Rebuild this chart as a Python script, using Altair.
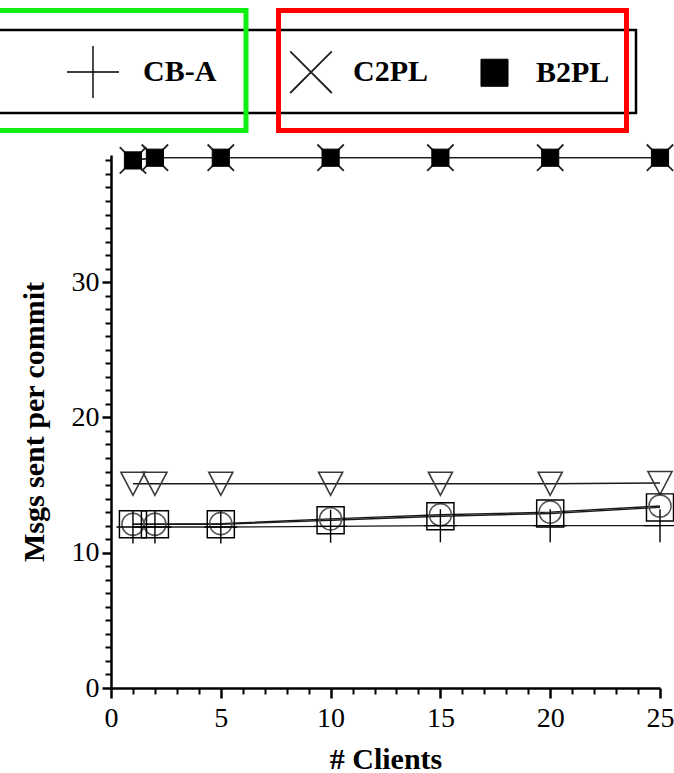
import altair as alt
import pandas as pd

SERIF = "Liberation Serif"

# x values (number of clients) shared by every series
clients = [1, 2, 5, 10, 15, 20, 25]

# messages sent per commit, one list per algorithm
nwl = [15.1, 15.1, 15.1, 15.1, 15.1, 15.1, 15.15]
cb_r = [12.1, 12.1, 12.15, 12.5, 12.8, 13.0, 13.45]
o2pl = [12.1, 12.1, 12.1, 12.4, 12.7, 12.9, 13.35]
cb_a = [11.9, 11.9, 11.9, 11.95, 12.0, 12.0, 12.0]
c2pl = [39.0, 39.2, 39.2, 39.2, 39.2, 39.2, 39.2]
b2pl = [39.0, 39.2, 39.2, 39.2, 39.2, 39.2, 39.2]

group1 = ["NWL", "CB-R", "O2PL", "CB-A"]
group2 = ["C2PL", "B2PL"]
series_values = {"NWL": nwl, "CB-R": cb_r, "O2PL": o2pl, "CB-A": cb_a, "C2PL": c2pl, "B2PL": b2pl}

rows = []
for name, vals in series_values.items():
    grp = 1 if name in group1 else 2
    for c, v in zip(clients, vals):
        rows.append({"series": name, "group": grp, "clients": c, "msgs": v})
df = pd.DataFrame(rows)

# marker outlines as unit paths (scaled by the symbol size); the leading
# moves give every symbol the same bounding box so legend rows line up
BOX = "M-1,-1M1,1"
P_TRI = BOX + "M-0.73,-0.7H0.73L0,0.7Z"
P_CIRCLE = BOX + "M0.67,0A0.67,0.67 0 1,1 -0.67,0A0.67,0.67 0 1,1 0.67,0Z"
P_SQUARE = BOX + "M-0.82,-0.82H0.82V0.82H-0.82Z"
P_PLUS = BOX + "M-1,0H1M0,-1V1"
P_X = BOX + "M-0.8,-0.8L0.8,0.8M-0.8,0.8L0.8,-0.8"
P_FSQUARE = BOX + "M-0.52,-0.52H0.52V0.52H-0.52Z"

xs = alt.Scale(domain=[0, 25], nice=False, zero=False)
ys = alt.Scale(domain=[0, 39.4], nice=False, zero=True)

x_major = alt.Axis(values=[0, 5, 10, 15, 20, 25], orient="bottom", format="d",
                   tickSize=10, tickWidth=2.5, tickColor="black",
                   domainColor="black", domainWidth=2.5,
                   labelFont=SERIF, labelFontSize=28, labelColor="black", labelPadding=6,
                   labelFlush=False, labelOverlap=False,
                   title="# Clients", titleFont=SERIF, titleFontSize=30, titleFontWeight="bold",
                   titleColor="black", titlePadding=12, grid=False)
x_minor = alt.Axis(values=[v for v in range(1, 25) if v % 5], orient="bottom",
                   tickSize=6, tickWidth=2, tickColor="black", domain=False, labels=False,
                   title=None, grid=False)
y_major = alt.Axis(values=[0, 10, 20, 30], orient="left", format="d",
                   tickSize=9, tickWidth=2.5, tickColor="black",
                   domainColor="black", domainWidth=2.5,
                   labelFont=SERIF, labelFontSize=28, labelColor="black", labelPadding=3,
                   labelFlush=False, labelOverlap=False,
                   title="Msgs sent per commit", titleFont=SERIF, titleFontSize=30,
                   titleFontWeight="bold", titleColor="black", titlePadding=22, grid=False)
y_minor = alt.Axis(values=[v for v in range(1, 40) if v % 10], orient="left",
                   tickSize=6, tickWidth=2, tickColor="black", domain=False, labels=False,
                   title=None, grid=False)

base = alt.Chart(df)

lines = base.mark_line(color="#1a1a1a").encode(
    x=alt.X("clients:Q", scale=xs, axis=x_major),
    y=alt.Y("msgs:Q", scale=ys, axis=y_major),
    detail="series:N",
    strokeWidth=alt.StrokeWidth("series:O", scale=alt.Scale(
        domain=group1 + group2, range=[1.5, 1.2, 1.5, 1.5, 2.2, 2.2]), legend=None),
)

leg_common = dict(title=None, orient="none", direction="horizontal", padding=0,
                  labelFont=SERIF, labelFontSize=30, labelFontWeight="bold", labelColor="black",
                  symbolSize=2704, symbolStrokeWidth=2.2)
leg1 = alt.Legend(legendX=-45, legendY=-110, values=["CB-A"], labelOffset=23, **leg_common)
leg2 = alt.Legend(legendX=173, legendY=-110, values=group2, labelOffset=15,
                  columnPadding=38, **leg_common)

pts1 = base.transform_filter(alt.datum.group == 1).mark_point(opacity=1, size=1089).encode(
    x=alt.X("clients:Q", scale=xs, axis=x_minor),
    y=alt.Y("msgs:Q", scale=ys, axis=y_minor),
    shape=alt.Shape("series:N", scale=alt.Scale(
        domain=group1, range=[P_TRI, P_CIRCLE, P_SQUARE, P_PLUS]), legend=leg1),
    fill=alt.Fill("series:N", scale=alt.Scale(
        domain=group1, range=["transparent"] * 4), legend=leg1),
    stroke=alt.Stroke("series:N", scale=alt.Scale(
        domain=group1, range=["#3a3a3a", "#555555", "#000000", "#000000"]), legend=leg1),
    strokeWidth=alt.StrokeWidth("series:O", scale=alt.Scale(
        domain=group1, range=[1.6, 1.4, 3.0, 2.6]), legend=None),
)

pts2 = base.transform_filter(alt.datum.group == 2).mark_point(opacity=1, size=1089).encode(
    x=alt.X("clients:Q", scale=xs, axis=None),
    y=alt.Y("msgs:Q", scale=ys, axis=None),
    shape=alt.Shape("series:N", scale=alt.Scale(
        domain=group2, range=[P_X, P_FSQUARE]), legend=leg2),
    fill=alt.Fill("series:N", scale=alt.Scale(
        domain=group2, range=["transparent", "#000000"]), legend=leg2),
    stroke=alt.Stroke("series:N", scale=alt.Scale(
        domain=group2, range=["#222222", "#000000"]), legend=leg2),
    strokeWidth=alt.StrokeWidth("series:O", scale=alt.Scale(
        domain=group2, range=[1.8, 1.0]), legend=None),
)

one = alt.Data(values=[{}])

# frame around the legend row and the two highlight boxes
frame = alt.Chart(one).mark_rect(fillOpacity=0, stroke="black", strokeWidth=2.5).encode(
    x=alt.value(-121), x2=alt.value(525), y=alt.value(-125), y2=alt.value(-42))
green_box = alt.Chart(one).mark_rect(fillOpacity=0, stroke="#11ee11", strokeWidth=5).encode(
    x=alt.value(-120), x2=alt.value(135), y=alt.value(-144.5), y2=alt.value(-24.5))
red_box = alt.Chart(one).mark_rect(fillOpacity=0, stroke="#ff0000", strokeWidth=5).encode(
    x=alt.value(167.5), x2=alt.value(515.5), y=alt.value(-144.5), y2=alt.value(-24.5))

chart = alt.layer(lines, pts1, pts2, frame, green_box, red_box).resolve_scale(
    shape="independent", fill="independent", stroke="independent", strokeWidth="independent"
).resolve_axis(x="independent", y="independent").properties(
    width=549, height=533, autosize="none",
    padding={"left": 111, "top": 155, "right": 14, "bottom": 85},
    background="white",
).configure_view(stroke=None)

chart.save("out.html", embed_options={"renderer": "svg", "actions": False})
